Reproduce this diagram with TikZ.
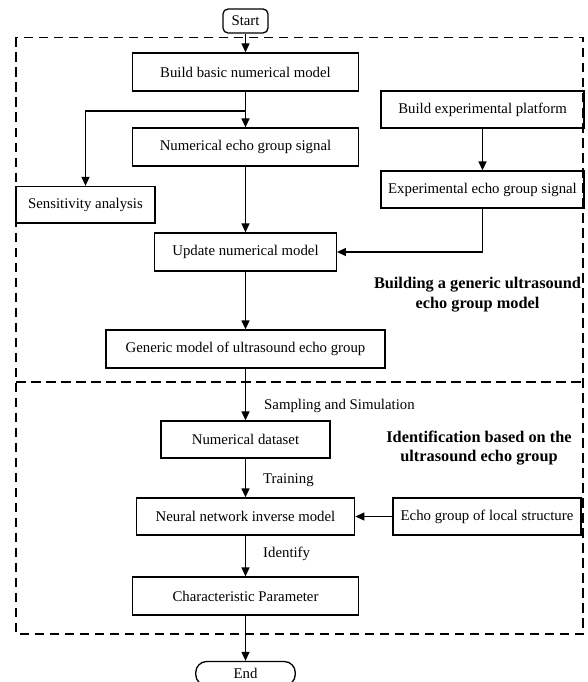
\documentclass[tikz,border=0pt]{standalone}
\usepackage{fontspec}
\setmainfont{Liberation Serif}
\usetikzlibrary{arrows.meta}
\begin{document}
\begin{tikzpicture}[x=1pt,y=-1pt,
  box/.style={draw, line width=1.3pt, inner sep=0pt, align=center, font=\fontsize{14.8}{17}\selectfont},
  term/.style={box},
  arr/.style={line width=1.3pt, -{Triangle[length=9pt,width=8pt]}},
  frame/.style={line width=1.3pt, dash pattern=on 9.5pt off 5.5pt},
  lab/.style={anchor=west, inner sep=0pt, font=\fontsize{14.8}{17}\selectfont},
  title/.style={align=center, inner sep=0pt, font=\bfseries\fontsize{16.3}{19.8}\selectfont}]
\useasboundingbox (0,0) rectangle (587,682);
% dashed frames
\draw[frame] (16,37.5) rectangle (583,634);
\draw[frame] (16,382) -- (583,382);
% nodes
\node[term, rounded corners=5pt, minimum width=45pt, minimum height=24pt] (start) at (245.5,21) {Start};
\node[box, minimum width=226.5pt, minimum height=38pt] (bbm) at (245.5,72) {Build basic numerical model};
\node[box, minimum width=226.5pt, minimum height=38pt] (nes) at (245.5,147) {Numerical echo group signal};
\node[box, minimum width=203pt, minimum height=37pt] (bep) at (482.5,109.5) {Build experimental platform};
\node[box, minimum width=203pt, minimum height=37pt] (ees) at (482.5,189.5) {Experimental echo group signal};
\node[box, minimum width=139pt, minimum height=36.5pt] (sa) at (85.5,204.75) {Sensitivity analysis};
\node[box, minimum width=181.6pt, minimum height=38pt] (unm) at (245.5,252) {Update numerical model};
\node[box, minimum width=279pt, minimum height=38pt] (gm) at (245.5,349) {Generic model of ultrasound echo group};
\node[box, minimum width=169pt, minimum height=37pt] (nd) at (245.5,439.5) {Numerical dataset};
\node[box, minimum width=218.5pt, minimum height=37pt] (nn) at (245.5,516.5) {Neural network inverse model};
\node[box, minimum width=188pt, minimum height=37pt] (el) at (487,516.5) {Echo group of local structure};
\node[box, minimum width=226.5pt, minimum height=38pt] (cp) at (245.5,596) {Characteristic Parameter};
\node[term, rounded corners=11pt, minimum width=99.5pt, minimum height=24pt] (end) at (245.5,673.5) {End};
% titles
\node[title] (t1) at (477.5,294.5) {Building a generic ultrasound\\echo group model};
\node[title] (t2) at (479,448) {Identification based on the\\ultrasound echo group};
% labels
\node[lab] (l1) at (264,406) {Sampling and Simulation};
\node[lab] (l2) at (263,480) {Training};
\node[lab] (l3) at (263,554) {Identify};
% connectors
\coordinate (br) at (245.5,111);
\draw[arr] (start.south) -- (bbm.north);
\draw[arr] (bbm.south) -- (nes.north);
\draw[arr] (br) -| (sa.north);
\draw[arr] (bep.south) -- (ees.north);
\draw[arr] (nes.south) -- (unm.north);
\draw[arr] (ees.south) |- (unm.east);
\draw[arr] (unm.south) -- (gm.north);
\draw[arr] (gm.south) -- (nd.north);
\draw[arr] (nd.south) -- (nn.north);
\draw[arr] (el.west) -- (nn.east);
\draw[arr] (nn.south) -- (cp.north);
\draw[arr] (cp.south) -- (end.north);
\end{tikzpicture}
\end{document}
